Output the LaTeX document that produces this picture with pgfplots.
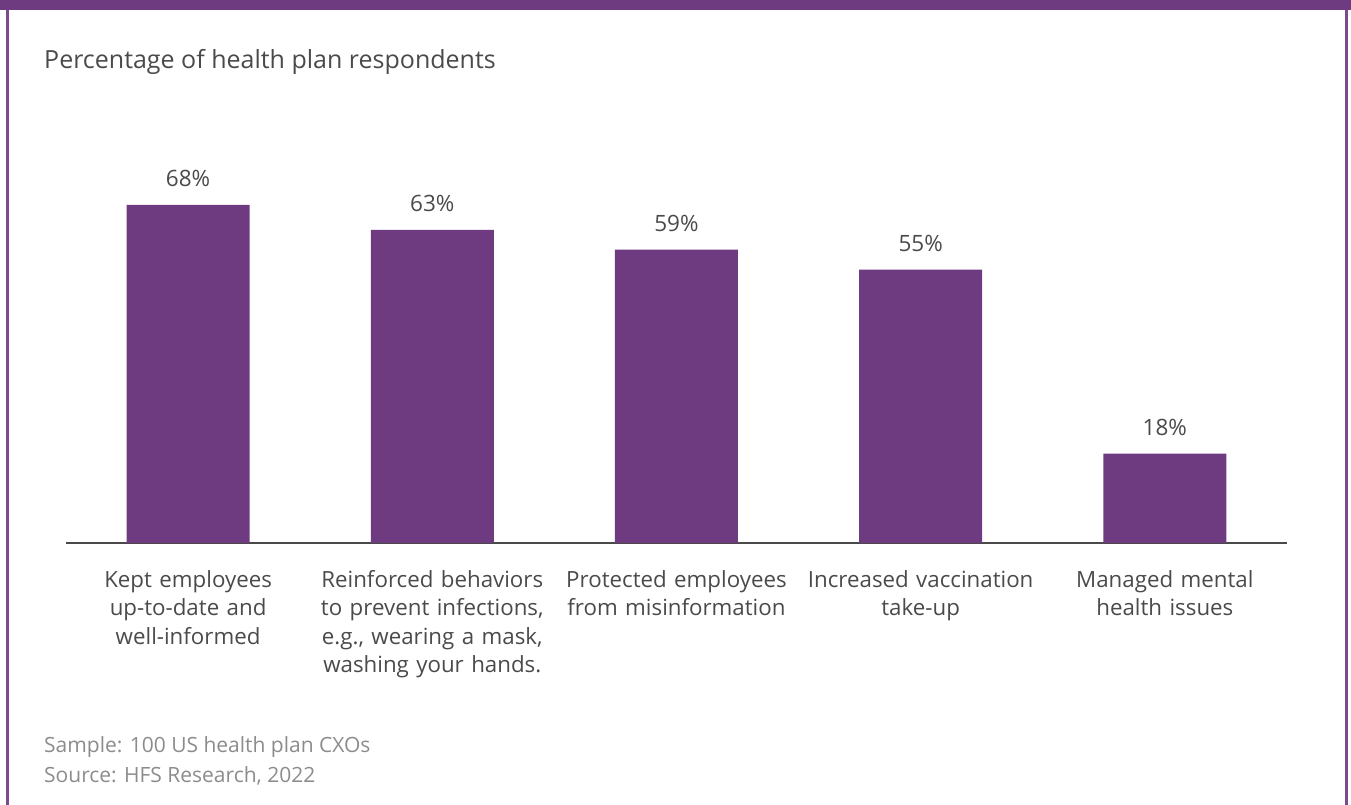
\documentclass[border=0pt]{standalone}
\usepackage{pgfplots}
\pgfplotsset{compat=1.18}
\usepackage{fontspec}
\setmainfont{Open Sans}
\definecolor{hfs}{HTML}{6F3B80}
\definecolor{hfsline}{HTML}{7D4A90}
\definecolor{txt}{HTML}{4A4A4A}
\definecolor{note}{HTML}{8C8C8C}
\begin{document}
\begin{tikzpicture}[x=1pt,y=1pt]
\useasboundingbox (0,0) rectangle (1351,805);
\fill[hfs] (0,795) rectangle (1351,805);
\fill[hfsline] (6,0) rectangle (8.5,795);
\fill[hfsline] (1345,0) rectangle (1347.5,795);
\node[anchor=base west, font=\fontsize{25}{30}\selectfont, text=txt, inner sep=0] at (44,736) {Percentage of health plan respondents};
\node[anchor=base west, font=\fontsize{21}{26}\selectfont, text=note, inner sep=0] at (44,52) {Sample: 100 US health plan CXOs};
\node[anchor=base west, font=\fontsize{21}{26}\selectfont, text=note, inner sep=0] at (44,22) {Source: HFS Research, 2022};
\begin{axis}[
  at={(66pt,262pt)}, anchor=south west,
  scale only axis, width=1221pt, height=348pt,
  xmin=-0.5, xmax=4.5, ymin=0, ymax=70,
  ybar, bar width=123pt,
  axis x line=bottom, axis y line=none,
  x axis line style={-, draw=txt, line width=2pt},
  xtick={0,1,2,3,4},
  xticklabels={{Kept employees\\up-to-date and\\well-informed},
    {Reinforced behaviors\\to prevent infections,\\e.g., wearing a mask,\\washing your hands.},
    {Protected employees\\from misinformation},
    {Increased vaccination\\take-up},
    {Managed mental\\health issues}},
  major tick length=0pt,
  xticklabel style={font=\fontsize{22.3}{28.5}\selectfont, text=txt, align=center, text width=250pt, anchor=north, inner sep=0pt, yshift=-27pt},
  /pgf/number format/assume math mode=true,
  nodes near coords={\pgfmathprintnumber{\pgfplotspointmeta}\%},
  every node near coord/.append style={font=\fontsize{22.5}{26}\selectfont, text=txt, anchor=base, inner sep=0pt, yshift=18.5pt},
  clip=false,
]
\addplot[fill=hfs, draw=none] coordinates {(0,68) (1,63) (2,59) (3,55) (4,18)};
\end{axis}
\end{tikzpicture}
\end{document}
